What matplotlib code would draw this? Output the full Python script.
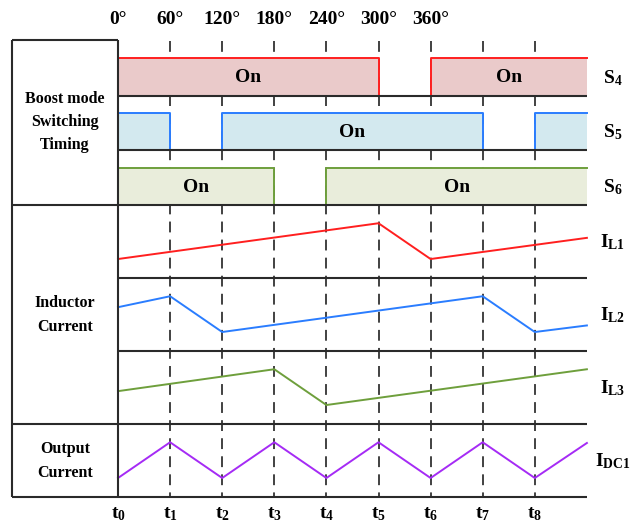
import numpy as np
import matplotlib.pyplot as plt

plt.rcParams['font.family'] = 'Liberation Serif'
plt.rcParams['font.weight'] = 'bold'
plt.rcParams['mathtext.fontset'] = 'custom'
plt.rcParams['mathtext.rm'] = 'Liberation Serif:bold'
plt.rcParams['mathtext.it'] = 'Liberation Serif:bold'
plt.rcParams['mathtext.bf'] = 'Liberation Serif:bold'

# time instants (degrees) and labels
t_deg = [0, 60, 120, 180, 240, 300, 360, 420, 480]
end_deg = 540
t_names = ['t$_0$', 't$_1$', 't$_2$', 't$_3$', 't$_4$', 't$_5$', 't$_6$', 't$_7$', 't$_8$']
angle_labels = ['0°', '60°', '120°', '180°', '240°', '300°', '360°']

# switch states per 60 degree segment
s4_state = [1, 1, 1, 1, 1, 0, 1, 1, 1]
s5_state = [1, 0, 1, 1, 1, 1, 1, 0, 1]
s6_state = [1, 1, 1, 0, 1, 1, 1, 1, 1]
switch_names = ['S$_4$', 'S$_5$', 'S$_6$']

# currents, breakpoints (deg) and level as fraction of the row height
il1_x = [0, 300, 360, 540]
il1_y = [0.26, 0.75, 0.26, 0.55]
il2_x = [0, 60, 120, 420, 480, 540]
il2_y = [0.60, 0.75, 0.26, 0.75, 0.26, 0.35]
il3_x = [0, 180, 240, 540]
il3_y = [0.45, 0.75, 0.26, 0.75]
idc_x = [0, 60, 120, 180, 240, 300, 360, 420, 480, 540]
idc_y = [0.26, 0.75, 0.26, 0.75, 0.26, 0.75, 0.26, 0.75, 0.26, 0.74]
current_names = ['I$_{L1}$', 'I$_{L2}$', 'I$_{L3}$', 'I$_{DC1}$']

# layout (pixels from the top, x in degrees)
PX = 52.1 / 60.0
sw_top = [58, 113, 168]
sw_bot = [96, 150, 205]
cur_rows = [(205, 278), (278, 351), (351, 424), (424, 497)]
box_left = -106 / PX
lab_x = 570
edge_cols = ['#ff1f1f', '#2a7dff', '#6e9f3c']
fill_cols = ['#eacaca', '#d3e9ef', '#e9eddb']
cur_cols = ['#ff1f1f', '#2a7dff', '#6e9f3c', '#a52bf5']
line_col = '#2a2a2a'

fig = plt.figure(figsize=(6.38, 5.23), dpi=100)
ax = fig.add_axes([0, 0, 1, 1])
ax.set_xlim(-118 / PX, 520 / PX)
ax.set_ylim(523, 0)
ax.axis('off')

# dashed time markers
ax.vlines(t_deg[1:], 41, 497, colors='#333333', linewidth=1.3,
          linestyles=(0, (6.0, 4.0)), zorder=0.5)

# switching rows
edges = t_deg + [end_deg]
for k, state in enumerate([s4_state, s5_state, s6_state]):
    top, bot = sw_top[k], sw_bot[k]
    lev = [top if s else bot for s in state]
    lev = lev + [lev[-1]]
    ax.fill_between(edges, lev, bot, step='post', color=fill_cols[k], lw=0, zorder=1)
    ax.step([0] + edges, [bot] + lev, where='post', color=edge_cols[k], lw=1.4, zorder=2)
    # "On" labels for the long intervals
    start = None
    for i, s in enumerate(state + [0]):
        if s and start is None:
            start = i
        if not s and start is not None:
            if i - start >= 2:
                ax.text((edges[start] + edges[i]) / 2, (top + bot) / 2 + 1, 'On',
                        ha='center', va='center', fontsize=14, zorder=4)
            start = None
    ax.text(lab_x, (top + bot) / 2 + 1, switch_names[k], ha='center', va='center',
            fontsize=14, zorder=4)

# currents
for k, (xs, ys) in enumerate([(il1_x, il1_y), (il2_x, il2_y), (il3_x, il3_y), (idc_x, idc_y)]):
    top, bot = cur_rows[k]
    yy = [bot - f * (bot - top) for f in ys]
    ax.plot(xs, yy, color=cur_cols[k], lw=1.4, zorder=2)
    ax.text(lab_x, (top + bot) / 2 + 1, current_names[k], ha='center', va='center',
            fontsize=14, zorder=4)

# frame lines
ax.hlines([96, 150, 278, 351], 0, end_deg, colors=line_col, lw=1.5, zorder=3)
ax.hlines([205, 424, 497], box_left, end_deg, colors=line_col, lw=1.5, zorder=3)
ax.hlines([40], box_left, 0, colors=line_col, lw=1.5, zorder=3)
ax.vlines([box_left, 0], 40, 497, colors=line_col, lw=1.5, zorder=3)

# left labels
box_cx = box_left / 2
ax.text(box_cx, 122, 'Boost mode\nSwitching\nTiming', ha='center', va='center',
        fontsize=11.5, linespacing=1.6)
ax.text(box_cx, 315, 'Inductor\nCurrent', ha='center', va='center',
        fontsize=11.5, linespacing=1.6)
ax.text(box_cx, 461, 'Output\nCurrent', ha='center', va='center',
        fontsize=11.5, linespacing=1.6)

# angle labels on top, time labels at the bottom
for d, lab in zip(t_deg, angle_labels):
    ax.text(d, 19, lab, ha='center', va='center', fontsize=14)
for d, lab in zip(t_deg, t_names):
    ax.text(d, 514, lab, ha='center', va='center', fontsize=14)

fig.savefig('out.png', dpi=100)
